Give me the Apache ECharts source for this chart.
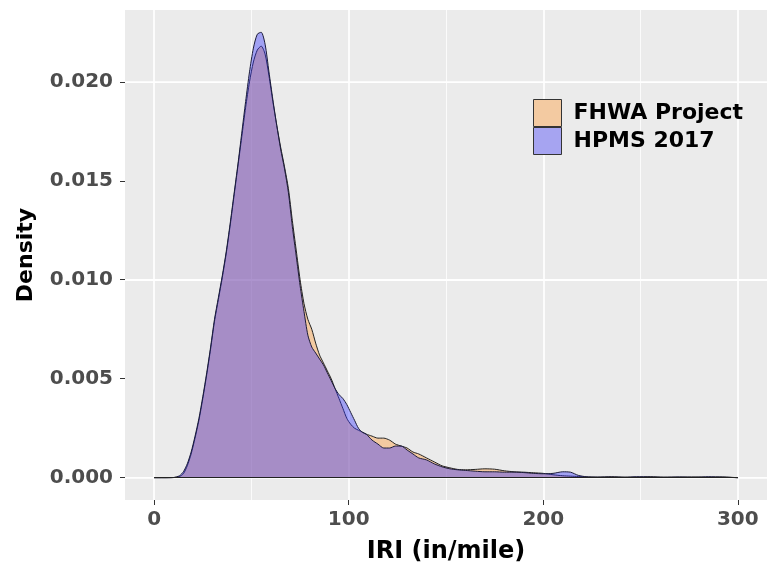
<!DOCTYPE html>
<html>
<head>
<meta charset="utf-8">
<title>IRI density</title>
<script src="https://cdn.jsdelivr.net/npm/echarts@6/dist/echarts.min.js"></script>
<style>
  html, body { margin: 0; padding: 0; background: #fff; }
  #chart { width: 767px; height: 573px; }
</style>
</head>
<body>
<div id="chart"></div>
<script>
// IRI values (in/mile) where the density curves are read
const iri = [0, 5, 10, 13, 15, 17, 19, 21, 23, 25, 27, 29, 31, 33, 35, 37, 39, 41, 43, 45,
  47, 49, 51, 53, 55, 57, 59, 61, 63, 65, 67, 69, 71, 73, 75, 77, 79, 81, 83, 85,
  87, 89, 91, 93, 95, 97, 99, 101, 103, 105, 107, 109, 112, 115, 118, 121, 124, 127, 130, 133,
  136, 140, 144, 148, 152, 156, 160, 165, 170, 175, 180, 185, 190, 195, 200, 205, 210, 214, 218, 222,
  228, 235, 242, 248, 255, 262, 270, 278, 285, 292, 300]

const fhwaDensity = [0, 0, 0.00001, 0.00006, 0.0002, 0.0006, 0.0012, 0.0020, 0.0029, 0.0040,
  0.0052, 0.0065, 0.0079, 0.0090, 0.0101, 0.0113, 0.0127, 0.0142, 0.0157, 0.0172,
  0.0187, 0.0200, 0.0210, 0.0216, 0.0218, 0.0214, 0.0203, 0.0190, 0.0178, 0.0167,
  0.0157, 0.0146, 0.0130, 0.0115, 0.0100, 0.0088, 0.0080, 0.0075, 0.0068, 0.0062,
  0.0058, 0.0054, 0.0050, 0.0045, 0.0040, 0.0035, 0.0030, 0.0027, 0.0025, 0.0024,
  0.0023, 0.0022, 0.0021, 0.0020, 0.0020, 0.0019, 0.0017, 0.0016, 0.0015, 0.0013,
  0.0012, 0.0010, 0.0008, 0.0006, 0.0005, 0.00042, 0.0004, 0.00042, 0.00045, 0.00043,
  0.00035, 0.0003, 0.00028, 0.00025, 0.00022, 0.00015, 0.0001, 0.00008, 0.00006, 0.00004,
  0.00003, 0.00005, 0.00003, 0.00003, 0.00005, 0.00003, 0.00003, 0.00004, 0.00003, 0.00004, 0]

const hpmsDensity = [0, 0, 0.00001, 0.0001, 0.0003, 0.0007, 0.0013, 0.0021, 0.0030, 0.0041,
  0.0053, 0.0066, 0.0080, 0.0091, 0.0102, 0.0114, 0.0128, 0.0143, 0.0158, 0.0174,
  0.0190, 0.0205, 0.0217, 0.0224, 0.0225, 0.0219, 0.0205, 0.0191, 0.0178, 0.0166,
  0.0156, 0.0144, 0.0127, 0.0112, 0.0097, 0.0084, 0.0072, 0.0066, 0.0063, 0.0060,
  0.0057, 0.0053, 0.0049, 0.0045, 0.0042, 0.0040, 0.0037, 0.0033, 0.0029, 0.0025,
  0.0023, 0.0022, 0.0019, 0.0017, 0.0015, 0.0015, 0.0016, 0.0016, 0.0014, 0.0012,
  0.0010, 0.0009, 0.0007, 0.00055, 0.00045, 0.0004, 0.00037, 0.00033, 0.0003, 0.0003,
  0.00028, 0.00028, 0.00026, 0.00022, 0.0002, 0.00022, 0.0003, 0.00028, 0.00012, 0.00005,
  0.00003, 0.00004, 0.00002, 0.00005, 0.00004, 0.00002, 0.00004, 0.00002, 0.00005, 0.00003, 0]

const xMajor = [0, 100, 200, 300]
const xMinor = [50, 150, 250]
const yMajor = [0, 0.005, 0.01, 0.015, 0.02]
const yMinor = [0.0025, 0.0075, 0.0125, 0.0175, 0.0225]

const font = 'DejaVu Sans'

function pairs (xs, ys) {
  let arr = []
  for (let i = 0; i < xs.length; i++) {
    arr.push([xs[i], ys[i]])
  }
  return arr
}

// ggplot-like white grid, drawn under the areas
function gridLines () {
  let lines = []
  xMinor.forEach(v => lines.push({xAxis: v, lineStyle: {width: 0.8}}))
  yMinor.forEach(v => lines.push({yAxis: v, lineStyle: {width: 0.8}}))
  xMajor.forEach(v => lines.push({xAxis: v, lineStyle: {width: 1.7}}))
  yMajor.forEach(v => lines.push({yAxis: v, lineStyle: {width: 1.7}}))
  return lines
}

let myChart = echarts.init(document.getElementById('chart'), null, {renderer: 'canvas'})
let option = {
  animation: false,
  backgroundColor: '#ffffff',
  textStyle: {fontFamily: font},
  grid: {
    left: 125,
    top: 10,
    right: 0,
    bottom: 73,
    show: true,
    backgroundColor: '#ebebeb',
    borderWidth: 0
  },
  legend: {
    orient: 'vertical',
    left: 533,
    top: 99,
    padding: 0,
    itemGap: 0,
    itemWidth: 28,
    itemHeight: 27,
    icon: 'rect',
    textStyle: {fontFamily: font, fontSize: 22, fontWeight: 'bold', color: '#000', padding: [0, 0, 0, 7]},
    data: [
      {name: 'FHWA Project', itemStyle: {color: '#f3caa1', borderColor: '#333', borderWidth: 1}},
      {name: 'HPMS 2017', itemStyle: {color: '#a6a4f1', borderColor: '#333', borderWidth: 1}}
    ]
  },
  xAxis: {
    type: 'value',
    min: -15,
    max: 315,
    name: 'IRI (in/mile)',
    nameLocation: 'middle',
    nameGap: 40,
    nameTextStyle: {fontFamily: font, fontSize: 24, fontWeight: 'bold', color: '#000'},
    axisLine: {show: false, onZero: false},
    axisTick: {show: true, customValues: xMajor, length: 5, lineStyle: {color: '#333', width: 1}},
    axisLabel: {customValues: xMajor, margin: 10, fontFamily: font, fontSize: 20, fontWeight: 'bold', color: '#4d4d4d'},
    splitLine: {show: false}
  },
  yAxis: {
    type: 'value',
    min: -0.001125,
    max: 0.023625,
    name: 'Density',
    nameLocation: 'middle',
    nameRotate: 90,
    nameGap: 88,
    nameTextStyle: {fontFamily: font, fontSize: 22, fontWeight: 'bold', color: '#000'},
    axisLine: {show: false, onZero: false},
    axisTick: {show: true, customValues: yMajor, length: 5, lineStyle: {color: '#333', width: 1}},
    axisLabel: {
      customValues: yMajor,
      margin: 12,
      fontFamily: font,
      fontSize: 20,
      fontWeight: 'bold',
      color: '#4d4d4d',
      formatter: v => v.toFixed(3)
    },
    splitLine: {show: false}
  },
  series: [
    {
      name: 'FHWA Project',
      type: 'line',
      z: 2,
      data: pairs(iri, fhwaDensity),
      smooth: 0.25,
      showSymbol: false,
      lineStyle: {color: '#222', width: 1},
      itemStyle: {color: '#f3caa1'},
      areaStyle: {color: 'rgba(255, 153, 51, 0.4)', opacity: 1},
      markLine: {
        z: 1,
        silent: true,
        symbol: ['none', 'none'],
        label: {show: false},
        lineStyle: {color: '#ffffff', type: 'solid'},
        data: gridLines()
      }
    },
    {
      name: 'HPMS 2017',
      type: 'line',
      z: 3,
      data: pairs(iri, hpmsDensity),
      smooth: 0.25,
      showSymbol: false,
      lineStyle: {color: '#1c1c3a', width: 1},
      itemStyle: {color: '#a6a4f1'},
      areaStyle: {color: 'rgba(51, 51, 255, 0.4)', opacity: 1},
      markLine: {
        z: 4,
        silent: true,
        symbol: ['none', 'none'],
        label: {show: false},
        lineStyle: {color: '#222', type: 'solid', width: 1},
        data: [[{coord: [iri[0], 0]}, {coord: [iri[iri.length - 1], 0]}]]
      }
    }
  ]
}
myChart.setOption(option)
</script>
</body>
</html>
